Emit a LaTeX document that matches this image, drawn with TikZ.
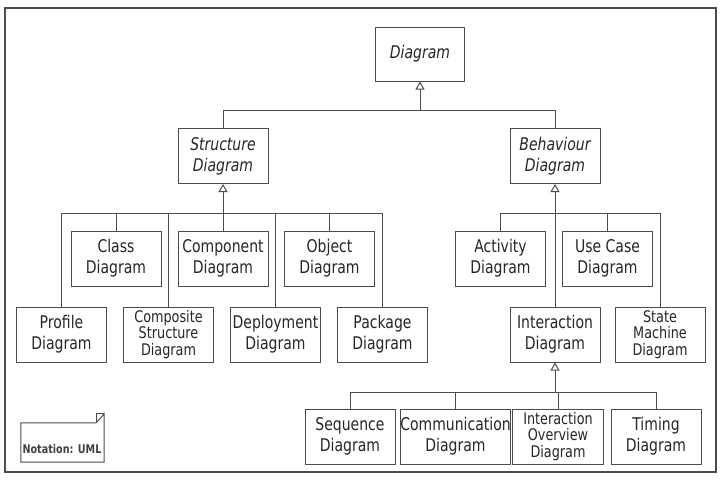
\documentclass[tikz,border=0pt]{standalone}
\usepackage{fontspec}
\setmainfont{DejaVu Sans}[FakeStretch=0.8]
\usetikzlibrary{arrows.meta}
\begin{document}
\begin{tikzpicture}[x=1pt,y=-1pt,
  frame/.style={draw=black!70, line width=1.5pt},
  box/.style={draw=black!70, line width=1pt, minimum width=90pt, minimum height=55pt, inner sep=0pt, align=center, text=black!85, font=\fontsize{17.5}{21}\selectfont},
  abox/.style={box, font=\fontsize{17.5}{21}\selectfont\itshape},
  tbox/.style={box, font=\fontsize{16}{16.5}\selectfont},
  link/.style={draw=black!70, line width=1pt},
  gen/.style={link, -{Triangle[open,length=8pt,width=9pt]}},
]
\useasboundingbox[fill=white] (0,0) rectangle (720,480);
\draw[frame] (5,8) rectangle (716,472);

% top
\node[abox, minimum width=89pt, minimum height=54pt] (diag) at (420,54) {Diagram};
\node[abox] (struct) at (223,156) {Structure\\Diagram};
\node[abox] (behav) at (555,156) {Behaviour\\Diagram};

% structure children
\node[box] (class) at (116,258.5) {Class\\Diagram};
\node[box] (comp) at (223,258.5) {Component\\Diagram};
\node[box] (obj) at (329.5,258.5) {Object\\Diagram};
\node[box] (prof) at (61.5,334.5) {Profile\\Diagram};
\node[tbox] (compo) at (168.5,334.5) {Composite\\Structure\\Diagram};
\node[box] (depl) at (275.5,334.5) {Deployment\\Diagram};
\node[box] (pack) at (382.5,334.5) {Package\\Diagram};

% behaviour children
\node[box] (act) at (500.5,258.5) {Activity\\Diagram};
\node[box] (usec) at (607.5,258.5) {Use Case\\Diagram};
\node[box] (inter) at (555,334.5) {Interaction\\Diagram};
\node[tbox] (state) at (660,334.5) {State\\Machine\\Diagram};

% interaction children
\node[box] (seq) at (350,436.5) {Sequence\\Diagram};
\node[box, minimum width=109pt] (comm) at (455.5,436.5) {Communication\\Diagram};
\node[tbox, minimum width=91pt] (iov) at (558,436.5) {Interaction\\Overview\\Diagram};
\node[box] (tim) at (656,436.5) {Timing\\Diagram};

% note
\node[minimum width=83pt, minimum height=39pt, inner sep=0pt] (note) at (62.5,442.5) {};
\draw[link] (note.north west) -- ([xshift=-8pt]note.north east) -- ([yshift=9pt]note.north east) -- (note.south east) -- (note.south west) -- cycle;
\draw[link, line width=0.8pt] ([xshift=-8pt]note.north east) -- ([xshift=-8pt,yshift=9pt]note.north east) -- ([yshift=9pt]note.north east);
\node[font=\fontsize{12}{14}\selectfont\bfseries, text=black!75, inner sep=0pt] (notetext) at (62,449) {Notation: UML};

% junctions
\coordinate (tj) at (420,110);
\coordinate (sj) at (223,213);
\coordinate (bj) at (555,213);
\coordinate (ij) at (555,392);

% top level
\draw[link] (struct.north) |- (tj);
\draw[link] (behav.north) |- (tj);
\draw[gen] (tj) -- (diag.south);

% structure
\draw[gen] (sj) -- (struct.south);
\draw[link] (prof.north) |- (sj);
\draw[link] (class.north) |- (sj);
\draw[link] (compo.north) |- (sj);
\draw[link] (comp.north) -- (sj);
\draw[link] (depl.north) |- (sj);
\draw[link] (obj.north) |- (sj);
\draw[link] (pack.north) |- (sj);

% behaviour
\draw[gen] (inter.north) -- (behav.south);
\draw[link] (act.north) |- (bj);
\draw[link] (usec.north) |- (bj);
\draw[link] (state.north) |- (bj);

% interaction
\draw[gen] (ij) -- (inter.south);
\draw[link] (seq.north) |- (ij);
\draw[link] (comm.north) |- (ij);
\draw[link] (iov.north) |- (ij);
\draw[link] (tim.north) |- (ij);
\end{tikzpicture}
\end{document}
